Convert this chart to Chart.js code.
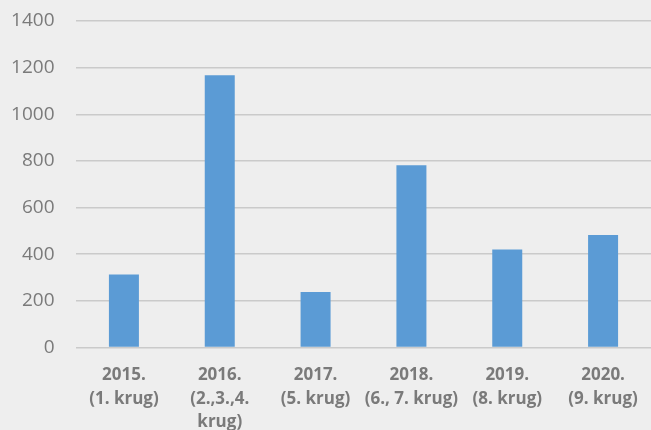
<!DOCTYPE html>
<html>
<head>
<meta charset="utf-8">
<script src="https://cdn.jsdelivr.net/npm/chart.js@4"></script>
<style>
  html, body { margin: 0; padding: 0; background: #eeeeee; }
  #wrap { width: 651px; height: 430px; position: relative; }
</style>
</head>
<body>
<div id="wrap"><canvas id="c" width="651" height="430"></canvas></div>
<script>
// Categories (multi-line labels) and counts per year / round
const categories = [
  ['2015.', '(1. krug)'],
  ['2016.', '(2.,3.,4.', 'krug)'],
  ['2017.', '(5. krug)'],
  ['2018.', '(6., 7. krug)'],
  ['2019.', '(8. krug)'],
  ['2020.', '(9. krug)']
];
const values = [313, 1167, 238, 781, 420, 482];
const yTicks = [0, 200, 400, 600, 800, 1000, 1200, 1400];

new Chart(document.getElementById('c'), {
  type: 'bar',
  data: {
    labels: categories,
    datasets: [{
      data: values,
      backgroundColor: '#5b9bd5',
      borderWidth: 0,
      categoryPercentage: 1,
      barPercentage: 0.313
    }]
  },
  options: {
    responsive: false,
    animation: false,
    layout: { padding: { top: 21, right: 0, left: 0, bottom: 0 } },
    plugins: { legend: { display: false }, tooltip: { enabled: false } },
    scales: {
      x: {
        grid: { display: false },
        border: { display: false },
        ticks: {
          color: '#7a7a7a',
          font: { family: 'Open Sans', size: 17, weight: 'bold', lineHeight: 1.38 },
          padding: 8,
          maxRotation: 0,
          autoSkip: false
        },
        afterFit: (s) => { s.height = 82.5; }
      },
      y: {
        min: 0,
        max: 1400,
        afterBuildTicks: (s) => { s.ticks = yTicks.map(v => ({ value: v })); },
        // invisible tick marks keep the labels clear of the plot edge
        grid: { color: '#cacaca', lineWidth: 1.5, drawTicks: true, tickLength: 21.5, tickColor: 'rgba(0,0,0,0)' },
        border: { display: false },
        ticks: {
          color: '#7a7a7a',
          font: { family: 'Open Sans', size: 19 },
          padding: 0,
          callback: (v) => String(v)
        },
        afterFit: (s) => { s.width = 76; }
      }
    }
  }
});
</script>
</body>
</html>
